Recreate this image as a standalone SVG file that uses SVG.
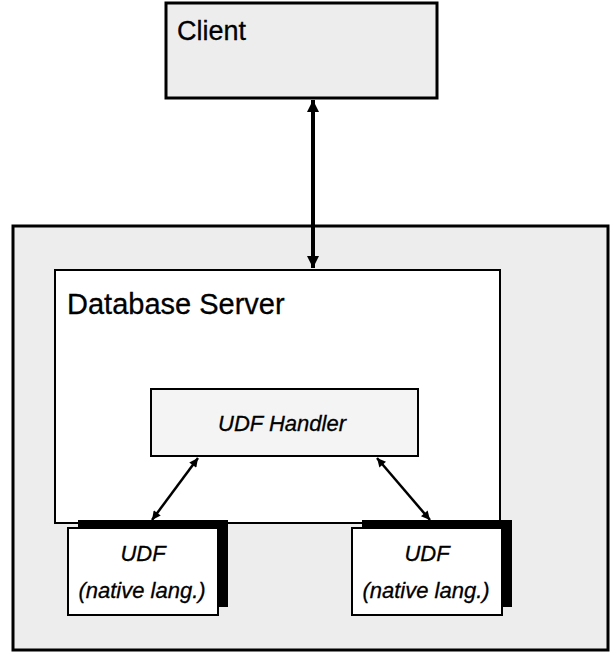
<svg xmlns="http://www.w3.org/2000/svg" width="614" height="654" viewBox="0 0 614 654">
  <style>
    .stip { fill: #ededed; stroke: #000; }
    .white { fill: #fff; stroke: #000; }
    .t { font-family: "Liberation Sans", Arial, sans-serif; fill: #000; stroke: #000; stroke-width: 0.3; }
    .it { font-family: "Liberation Sans", Arial, sans-serif; font-style: italic; fill: #000; stroke: #000; stroke-width: 0.3; }
    .conn { stroke: #000; fill: none; }
  </style>
  <defs>
    <marker id="ahBig" viewBox="0 0 10 10" refX="10" refY="5" markerWidth="5" markerHeight="3" orient="auto-start-reverse" markerUnits="strokeWidth">
      <path d="M0,0 L10,5 L0,10 Z" fill="#000"/>
    </marker>
    <marker id="ahSm" viewBox="0 0 10 10" refX="10" refY="5" markerWidth="4.5" markerHeight="3.5" orient="auto-start-reverse" markerUnits="strokeWidth">
      <path d="M0,0 L10,5 L0,10 Z" fill="#000"/>
    </marker>
  </defs>

  <g id="outer">
    <rect class="stip" x="13" y="226" width="595" height="424" stroke-width="3"/>
  </g>

  <g id="client">
    <rect class="stip" x="166" y="3" width="271" height="95" stroke-width="3"/>
    <text class="t" x="177" y="40" font-size="27">Client</text>
  </g>

  <g id="database-server">
    <rect class="white" x="55" y="270" width="445" height="253" stroke-width="2"/>
    <text class="t" x="67" y="314" font-size="29">Database Server</text>
  </g>

  <g id="udf-handler">
    <rect fill="#f4f4f4" stroke="#000" x="151" y="389" width="267" height="67" stroke-width="2"/>
    <text class="it" x="282" y="431" font-size="22" text-anchor="middle">UDF Handler</text>
  </g>

  <g id="udf-left">
    <rect x="78" y="520" width="150" height="87" fill="#000"/>
    <rect class="white" x="68" y="528" width="150" height="87" stroke-width="2"/>
    <text class="it" x="143" y="561" font-size="22" text-anchor="middle">UDF</text>
    <text class="it" x="142" y="598" font-size="22" text-anchor="middle">(native lang.)</text>
  </g>

  <g id="udf-right">
    <rect x="362" y="520" width="150" height="87" fill="#000"/>
    <rect class="white" x="352" y="528" width="150" height="87" stroke-width="2"/>
    <text class="it" x="427" y="561" font-size="22" text-anchor="middle">UDF</text>
    <text class="it" x="426" y="598" font-size="22" text-anchor="middle">(native lang.)</text>
  </g>

  <g id="connectors">
    <line class="conn" x1="313" y1="100" x2="313" y2="268" stroke-width="4" marker-start="url(#ahBig)" marker-end="url(#ahBig)"/>
    <line class="conn" x1="198" y1="458" x2="152" y2="520" stroke-width="2.5" marker-start="url(#ahSm)" marker-end="url(#ahSm)"/>
    <line class="conn" x1="377" y1="458" x2="430" y2="520" stroke-width="2.5" marker-start="url(#ahSm)" marker-end="url(#ahSm)"/>
  </g>
</svg>
